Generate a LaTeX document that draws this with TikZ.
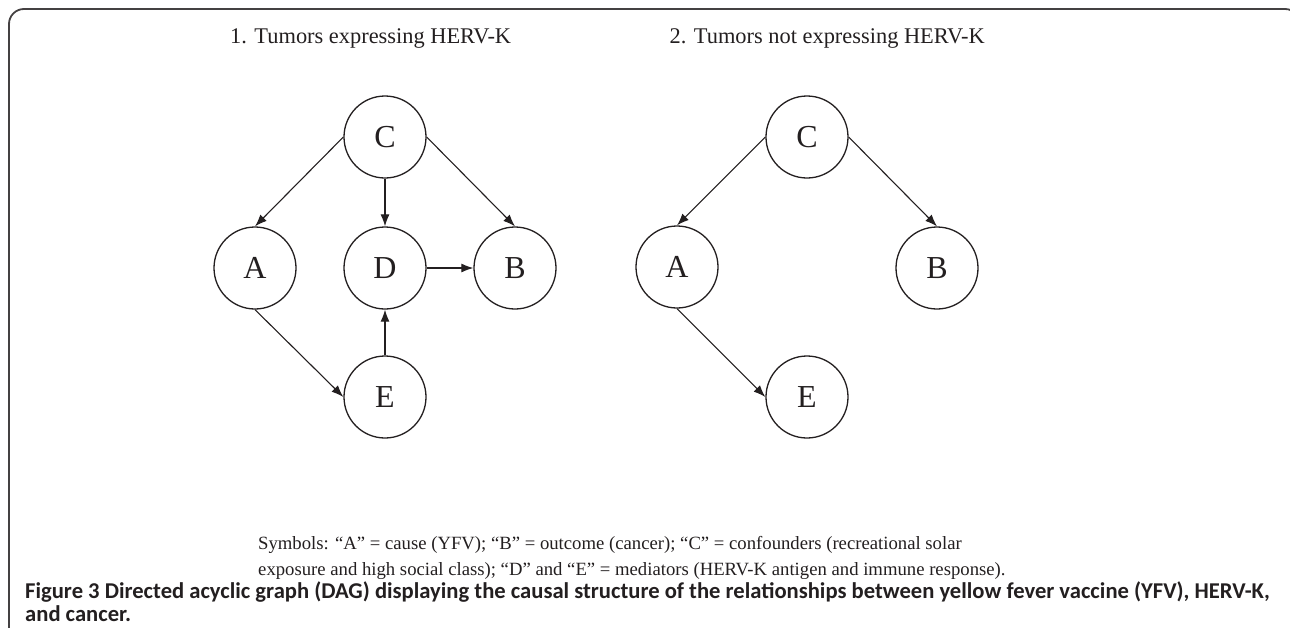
\documentclass[tikz,border=0pt]{standalone}
\usepackage{fontspec}
\setmainfont{Liberation Serif}
\newfontfamily\capfont{Carlito}
\usetikzlibrary{arrows.meta}
\definecolor{ink}{HTML}{231F20}
\begin{document}
\begin{tikzpicture}[x=1pt,y=-1pt,
  vert/.style={circle,draw=ink,line width=1.3pt,minimum size=82pt,inner sep=0pt,
    font=\fontsize{32}{36}\selectfont,text=ink},
  edge/.style={draw=ink,line width=1.1pt,-{Latex[length=12pt,width=9pt]}},
  ttl/.style={anchor=base west,inner sep=0pt,text=ink,font=\fontsize{22.4}{26}\selectfont},
  sym/.style={anchor=base west,inner sep=0pt,text=ink,font=\fontsize{18.7}{22}\selectfont},
  captext/.style={anchor=base west,inner sep=0pt,text=ink,font=\capfont\bfseries\fontsize{22.6}{26}\selectfont}]
\useasboundingbox (0,0) rectangle (1290,627);
\draw[ink!85,line width=1.8pt,rounded corners=15pt] (9,640) -- (9,9) -- (1300,9) -- (1300,640);
% titles
\node[ttl] (t1) at (230,43) {1. Tumors expressing HERV-K};
\node[ttl,anchor=base east] (t2) at (985,43) {2. Tumors not expressing HERV-K};
% graph 1
\node[vert] (C1) at (385,137) {C};
\node[vert] (A1) at (255,268) {A};
\node[vert] (D1) at (385,268) {D};
\node[vert] (B1) at (515,268) {B};
\node[vert] (E1) at (385,397) {E};
\draw[edge] (C1.west) -- (A1.north);
\draw[edge] (C1.south) -- (D1.north);
\draw[edge] (C1.east) -- (B1.north);
\draw[edge] (D1.east) -- (B1.west);
\draw[edge] (A1.south) -- (E1.west);
\draw[edge] (E1.north) -- (D1.south);
% graph 2
\node[vert] (C2) at (807,137) {C};
\node[vert] (A2) at (677,267) {A};
\node[vert] (B2) at (937,268) {B};
\node[vert] (E2) at (807,397) {E};
\draw[edge] (C2.west) -- (A2.north);
\draw[edge] (C2.east) -- (B2.north);
\draw[edge] (A2.south) -- (E2.west);
% symbols
\node[sym] (s1) at (258,549) {Symbols: “A” = cause (YFV); “B” = outcome (cancer); “C” = confounders (recreational solar};
\node[sym] (s2) at (258,575) {exposure and high social class); “D” and “E” = mediators (HERV-K antigen and immune response).};
% caption
\node[captext] (c1) at (25,598) {Figure 3 Directed acyclic graph (DAG) displaying the causal structure of the relationships between yellow fever vaccine (YFV), HERV-K,};
\node[captext] (c2) at (25,621) {and cancer.};
\end{tikzpicture}
\end{document}
